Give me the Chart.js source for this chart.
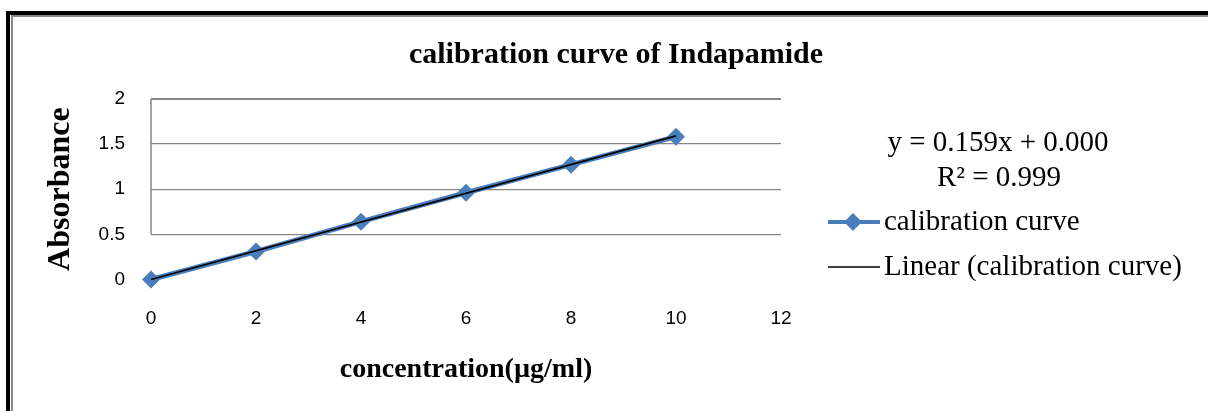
<!DOCTYPE html>
<html>
<head>
<meta charset="utf-8">
<script src="https://cdn.jsdelivr.net/npm/chart.js@4.4.1/dist/chart.umd.min.js"></script>
<style>
  html, body { margin: 0; padding: 0; background: #fff; }
  #wrap { position: relative; width: 1208px; height: 411px; overflow: hidden; }
  canvas { display: block; }
  .frame { position: absolute; pointer-events: none; }
</style>
</head>
<body>
<div id="wrap">
  <canvas id="chart" width="1208" height="411"></canvas>
  <div class="frame" style="left:6px;top:11px;width:1202px;height:4px;background:#000;"></div>
  <div class="frame" style="left:6px;top:11px;width:4px;height:400px;background:#000;"></div>
  <div class="frame" style="left:11px;top:15px;width:1197px;height:2px;background:#8a8a8a;"></div>
  <div class="frame" style="left:11px;top:15px;width:2px;height:396px;background:#8a8a8a;"></div>
</div>
<script>
'use strict';

// ─── Data ─────────────────────────────────────────────────────────────────────

const CONCENTRATION = [0, 2, 4, 6, 8, 10];
const ABSORBANCE = [0, 0.31, 0.64, 0.96, 1.27, 1.58];

// trendline end points (y = 0.159x + 0.000)
const TREND_X = [0, 10];
const TREND_Y = [0, 1.59];

const X_TICKS = [0, 2, 4, 6, 8, 10, 12];
const Y_TICKS = [0, 0.5, 1, 1.5, 2];

const SERIES_LABEL = 'calibration curve';
const TREND_LABEL = 'Linear (calibration curve)';
const EQUATION = 'y = 0.159x + 0.000';
const R_SQUARED = 'R² = 0.999';

// ─── Styles ───────────────────────────────────────────────────────────────────

const BLUE = '#4a7ebb';
const GRID = '#868686';
const SERIF = '"Liberation Serif", "Times New Roman", serif';
const SANS = '"Liberation Sans", Arial, sans-serif';

// left axis line only runs down to the 0.5 gridline in the original
const leftAxisLine = {
  id: 'leftAxisLine',
  beforeDatasetsDraw(chart) {
    const { ctx, chartArea, scales } = chart;
    ctx.save();
    ctx.strokeStyle = GRID;
    ctx.lineWidth = 1.5;
    ctx.beginPath();
    ctx.moveTo(chartArea.left, scales.y.getPixelForValue(2));
    ctx.lineTo(chartArea.left, scales.y.getPixelForValue(0.5));
    ctx.stroke();
    ctx.restore();
  },
};

// equation + legend on the right side
const sidePanel = {
  id: 'sidePanel',
  afterDraw(chart) {
    const { ctx } = chart;
    ctx.save();
    ctx.fillStyle = '#000';
    ctx.font = `29px ${SERIF}`;
    ctx.textBaseline = 'middle';

    ctx.textAlign = 'center';
    ctx.fillText(EQUATION, 998, 143);
    ctx.fillText(R_SQUARED, 999, 178);

    ctx.textAlign = 'left';
    // series entry
    ctx.strokeStyle = BLUE;
    ctx.lineWidth = 4;
    ctx.beginPath();
    ctx.moveTo(828, 222);
    ctx.lineTo(880, 222);
    ctx.stroke();
    ctx.fillStyle = BLUE;
    Chart.helpers.drawPoint(ctx, { pointStyle: 'rectRot', radius: 9, rotation: 0, borderWidth: 0 }, 853, 222);
    ctx.fillStyle = '#000';
    ctx.fillText(SERIES_LABEL, 884, 222);

    // trendline entry
    ctx.strokeStyle = '#000';
    ctx.lineWidth = 1.5;
    ctx.beginPath();
    ctx.moveTo(828, 267);
    ctx.lineTo(880, 267);
    ctx.stroke();
    ctx.fillText(TREND_LABEL, 884, 267);
    ctx.restore();
  },
};

const ctx = document.getElementById('chart').getContext('2d');

new Chart(ctx, {
  type: 'scatter',
  data: {
    datasets: [
      {
        label: TREND_LABEL,
        data: TREND_X.map((x, i) => ({ x, y: TREND_Y[i] })),
        showLine: true,
        borderColor: '#000',
        borderWidth: 1.8,
        pointRadius: 0,
        clip: false,
        order: 0,
      },
      {
        label: SERIES_LABEL,
        data: CONCENTRATION.map((x, i) => ({ x, y: ABSORBANCE[i] })),
        showLine: true,
        borderColor: BLUE,
        backgroundColor: BLUE,
        borderWidth: 5,
        pointStyle: 'rectRot',
        pointRadius: 9,
        pointBorderWidth: 0,
        clip: false,
        order: 1,
      },
    ],
  },
  options: {
    responsive: false,
    animation: false,
    devicePixelRatio: 1,
    layout: { padding: { left: 24, right: 0, top: 0, bottom: 0 } },
    plugins: {
      legend: { display: false },
      tooltip: { enabled: false },
      title: {
        display: true,
        text: 'calibration curve of Indapamide',
        color: '#000',
        font: { family: SERIF, size: 30, weight: 'bold' },
        padding: { top: 37, bottom: 25.7 },
      },
    },
    scales: {
      x: {
        type: 'linear',
        min: 0,
        max: 12,
        afterBuildTicks: (s) => { s.ticks = X_TICKS.map((v) => ({ value: v })); },
        afterFit: (s) => { s.height = 131.5; },
        grid: { display: false, drawTicks: false },
        border: { display: false },
        ticks: { color: '#000', padding: 28, font: { family: SANS, size: 19 }, callback: (v) => `${v}` },
        title: {
          display: true,
          text: 'concentration(µg/ml)',
          color: '#000',
          font: { family: SERIF, size: 28, weight: 'bold' },
          padding: { top: 0, bottom: 24 },
        },
      },
      y: {
        type: 'linear',
        min: 0,
        max: 2,
        afterBuildTicks: (s) => { s.ticks = Y_TICKS.map((v) => ({ value: v })); },
        afterFit: (s) => { s.width = 127; },
        grid: {
          drawTicks: false,
          color: (c) => (c.tick && c.tick.value === 0 ? 'rgba(0,0,0,0)' : GRID),
          lineWidth: (c) => (c.tick && c.tick.value === 2 ? 2 : 1.2),
        },
        border: { display: false },
        ticks: { color: '#000', padding: 26, font: { family: SANS, size: 19 }, callback: (v) => `${v}` },
        title: {
          display: true,
          text: 'Absorbance',
          color: '#000',
          font: { family: SERIF, size: 32, weight: 'bold' },
          padding: { top: 18, bottom: 0 },
        },
      },
      // empty axis that reserves the space on the right for the equation and legend
      side: {
        type: 'linear',
        position: 'right',
        afterFit: (s) => { s.width = 427; },
        grid: { display: false },
        border: { display: false },
        ticks: { display: false },
      },
    },
  },
  plugins: [leftAxisLine, sidePanel],
});
</script>
</body>
</html>
